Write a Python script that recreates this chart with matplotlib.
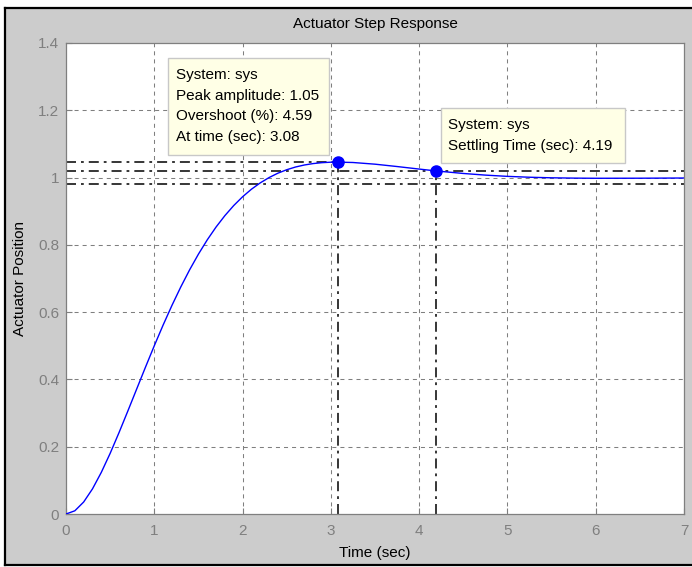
import matplotlib
matplotlib.use("Agg")
import matplotlib.pyplot as plt
from matplotlib.patches import Rectangle
from matplotlib.lines import Line2D

plt.rcParams['font.family'] = ['Liberation Sans', 'DejaVu Sans']
plt.rcParams['lines.scale_dashes'] = False

# ---- data ----
time_s = [0.0, 0.1, 0.2, 0.3, 0.4, 0.5, 0.6, 0.7, 0.8, 0.9,
          1.0, 1.1, 1.2, 1.3, 1.4, 1.5, 1.6, 1.7, 1.8, 1.9,
          2.0, 2.1, 2.2, 2.3, 2.4, 2.5, 2.6, 2.7, 2.8, 2.9,
          3.0, 3.08, 3.25, 3.5, 3.75, 4.0, 4.19, 4.25, 4.5, 4.75,
          5.0, 5.25, 5.5, 5.75, 6.0, 6.5, 7.0]
position = [0.0, 0.0095, 0.0356, 0.0747, 0.1238, 0.1802, 0.2416, 0.3058, 0.3711, 0.4363,
            0.5001, 0.5616, 0.6200, 0.6748, 0.7257, 0.7724, 0.8149, 0.8531, 0.8870, 0.9169,
            0.9429, 0.9653, 0.9842, 1.0000, 1.0130, 1.0233, 1.0314, 1.0374, 1.0416, 1.0443,
            1.0457, 1.0459, 1.0448, 1.0398, 1.0328, 1.0253, 1.0198, 1.0183, 1.0122, 1.0073,
            1.0036, 1.0010, 0.9993, 0.9984, 0.9979, 0.9981, 0.9987]

peak_time = 3.08
peak_amp = 1.0459
settle_time = 4.19
settle_amp = 1.0198
settle_band = [1.02, 0.98]

x_ticks = [0, 1, 2, 3, 4, 5, 6, 7]
y_ticks = [0, 0.2, 0.4, 0.6, 0.8, 1.0, 1.2, 1.4]
y_tick_labels = ['0', '0.2', '0.4', '0.6', '0.8', '1', '1.2', '1.4']

peak_tip = ['System: sys', 'Peak amplitude: 1.05', 'Overshoot (%): 4.59', 'At time (sec): 3.08']
settle_tip = ['System: sys', 'Settling Time (sec): 4.19']

# ---- layout helpers (image pixel -> figure fraction) ----
W, H = 692, 567
def fx(px):
    return px / W
def fy(py):
    return 1 - py / H

fig = plt.figure(figsize=(W / 100, H / 100), dpi=100, facecolor='white')

# gray figure panel
panel = Rectangle((fx(5), fy(565)), 1.0 - fx(5), fy(8) - fy(565),
                  transform=fig.transFigure, facecolor='#CCCCCC',
                  edgecolor='none', zorder=-10)
fig.add_artist(panel)
# black frame on top, left and bottom only
frame_kw = dict(transform=fig.transFigure, color='black', linewidth=1.6, zorder=-9,
                solid_capstyle='projecting')
fig.add_artist(Line2D([fx(5), 1.0], [fy(8), fy(8)], **frame_kw))
fig.add_artist(Line2D([fx(5), fx(5)], [fy(8), fy(565)], **frame_kw))
fig.add_artist(Line2D([fx(5), 1.0], [fy(565), fy(565)], **frame_kw))

ax = fig.add_axes([fx(66), fy(514), fx(684) - fx(66), fy(43) - fy(514)])
ax.set_facecolor('white')

gray = '#7f7f7f'
dashdot = (0, (7.2, 3.6, 2.0, 3.6))
grid_ls = (0, (2.9, 2.9))

# grid
for xv in x_ticks[1:-1]:
    ax.axvline(xv, color=gray, lw=0.75, ls=grid_ls, zorder=1)
for yv in y_ticks[1:-1]:
    ax.axhline(yv, color=gray, lw=0.75, ls=grid_ls, zorder=1)

# characteristic lines
ax.plot([0, peak_time], [peak_amp, peak_amp], color='black', lw=1.1, ls=dashdot, zorder=2)
ax.plot([peak_time, peak_time], [0, peak_amp], color='black', lw=1.1, ls=dashdot, zorder=2)
ax.plot([settle_time, settle_time], [0, settle_amp], color='black', lw=1.1, ls=dashdot, zorder=2)
for b in settle_band:
    ax.plot([0, 7], [b, b], color='black', lw=1.1, ls=dashdot, zorder=2)

# response curve
ax.plot(time_s, position, color='#0000FF', lw=1.0, zorder=3)
ax.plot([peak_time], [peak_amp], 'o', color='#0000FF', ms=8, zorder=4)
ax.plot([settle_time], [settle_amp], 'o', color='#0000FF', ms=8, zorder=4)

ax.set_xlim(0, 7)
ax.set_ylim(0, 1.4)
ax.set_xticks(x_ticks)
ax.set_yticks(y_ticks)
ax.set_yticklabels(y_tick_labels)
ax.tick_params(direction='in', length=4, width=0.8, colors=gray, labelsize=11,
               labelcolor=gray)
ax.tick_params(axis='x', pad=7)
ax.tick_params(axis='y', pad=5)
for s in ax.spines.values():
    s.set_color(gray)
    s.set_linewidth(0.9)

ax.set_title('Actuator Step Response', fontsize=11, pad=10.5, color='black')
ax.set_xlabel('Time (sec)', fontsize=11, labelpad=6, color='black')
ax.set_ylabel('Actuator Position', fontsize=11, labelpad=8, color='black')

# data tips
def tip(x0, y0, x1, y1, lines, tx, ty0, dy):
    r = Rectangle((fx(x0), fy(y1)), fx(x1) - fx(x0), fy(y0) - fy(y1),
                  transform=fig.transFigure, facecolor='#FFFFE6',
                  edgecolor='#C8C8C8', linewidth=1.0, zorder=5)
    fig.add_artist(r)
    for i, t in enumerate(lines):
        fig.text(fx(tx), fy(ty0 + i * dy), t, fontsize=11, color='black',
                 ha='left', va='center', zorder=6)

tip(168, 58, 329, 155, peak_tip, 176, 75, 20.7)
tip(441, 108, 625, 163, settle_tip, 448, 125.5, 20.3)

fig.savefig('out.png', dpi=100, facecolor=fig.get_facecolor())
